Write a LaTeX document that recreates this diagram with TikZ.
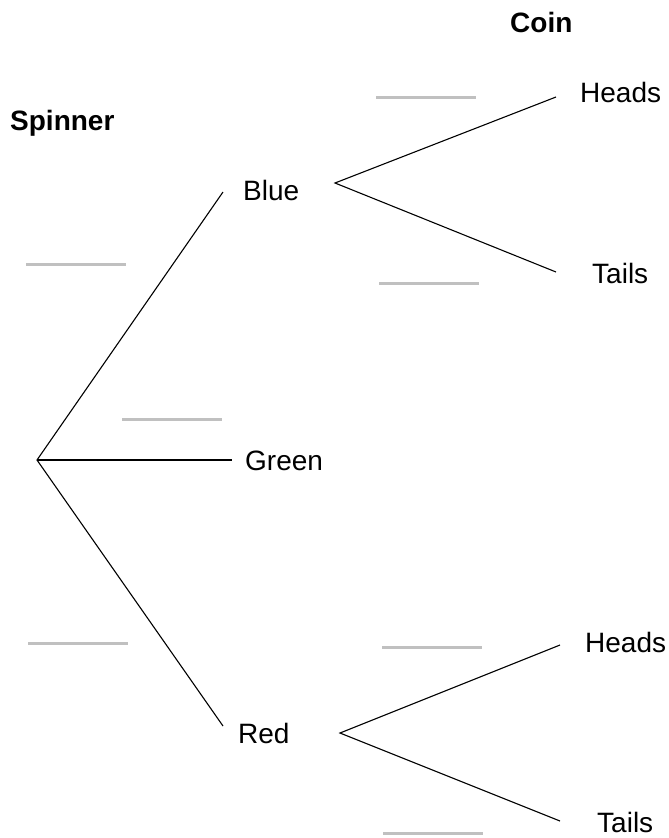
\documentclass[tikz,border=0pt]{standalone}
\usepackage{fontspec}
\setmainfont{Liberation Sans}
\definecolor{blankgray}{RGB}{192,192,192}

\begin{document}
\begin{tikzpicture}[x=1pt,y=-1pt,
        lbl/.style={anchor=base west,inner sep=0pt,font=\fontsize{28}{34}\selectfont},
        head/.style={anchor=base west,inner sep=0pt,font=\fontsize{28}{34}\selectfont\bfseries},
        blank/.style={draw=blankgray,line width=3pt},
        branch/.style={draw,line width=1.1pt}]
        \useasboundingbox (0,0) rectangle (669,838);

        \node[head] (spinner) at (10,130) {Spinner};
        \node[head] (coin) at (510,32) {Coin};

        \node[lbl] (blue) at (243,200) {Blue};
        \node[lbl] (green) at (245,470) {Green};
        \node[lbl] (red) at (238,743) {Red};
        \node[lbl] (heads_b) at (580,102) {Heads};
        \node[lbl] (tails_b) at (592,283) {Tails};
        \node[lbl] (heads_r) at (585,652) {Heads};
        \node[lbl] (tails_r) at (597,832) {Tails};

        \coordinate (root) at (37,460);
        \coordinate (blue_in) at (223,192);
        \coordinate (green_in) at (232,460);
        \coordinate (red_in) at (223,726);
        \coordinate (blue_out) at (335,183);
        \coordinate (red_out) at (340,733);
        \coordinate (heads_b_in) at (556,97);
        \coordinate (tails_b_in) at (556,272);
        \coordinate (heads_r_in) at (560,645);
        \coordinate (tails_r_in) at (560,821);

        \draw[branch] (blue_in) -- (root) -- (red_in);
        \draw[branch] (root) -- (green_in);
        \draw[branch] (heads_b_in) -- (blue_out) -- (tails_b_in);
        \draw[branch] (heads_r_in) -- (red_out) -- (tails_r_in);

        % blanks for the probabilities
        \foreach \x/\y in {26/264, 122/419, 28/643, 376/97, 379/283, 382/647, 383/833}
            \draw[blank] (\x,\y) -- ++(100,0);

\end{tikzpicture}
\end{document}
